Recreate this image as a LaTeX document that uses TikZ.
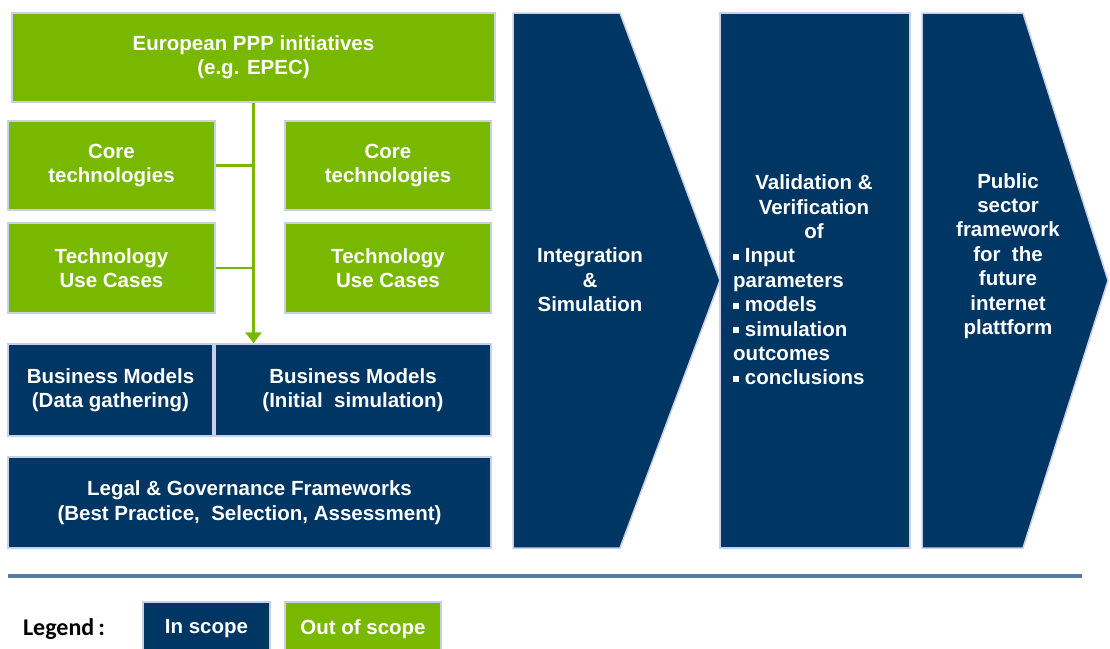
\documentclass[tikz,border=0pt]{standalone}
\usepackage{fontspec}
\setmainfont{Liberation Sans}
\newfontfamily\legfont{Carlito}
\usetikzlibrary{arrows.meta}
\definecolor{navy}{RGB}{0,54,99}
\definecolor{grn}{RGB}{120,185,0}
\definecolor{lav}{RGB}{200,207,230}
\definecolor{sepc}{RGB}{90,124,164}
\begin{document}
\begin{tikzpicture}[x=1pt,y=-1pt,
  txt/.style={text=white, inner sep=0pt, align=center, font=\fontsize{20.5}{24.4}\selectfont\bfseries},
  base/.style={txt, draw=lav, line width=1.5pt},
  gbox/.style={base, fill=grn},
  nbox/.style={base, fill=navy},
  chev/.style={draw=lav, line width=1.5pt, fill=navy},
  conn/.style={draw=grn, line width=3pt},
  branch/.style={draw=grn, line width=2.2pt}]
\useasboundingbox (0,0) rectangle (1110,648);
\fill[white] (0,0) rectangle (1110,648);

% left column boxes
\node[gbox, minimum width=483pt, minimum height=89pt] (eu) at (253.5,57.5) {European PPP initiatives\\(e.g. EPEC)};
\node[gbox, minimum width=207pt, minimum height=89pt] (coreL) at (111.5,165.5) {Core\\technologies};
\node[gbox, minimum width=206pt, minimum height=89pt] (coreR) at (388,165.5) {Core\\technologies};
\node[gbox, minimum width=207pt, minimum height=90pt] (useL) at (111.5,268) {Technology\\Use Cases};
\node[gbox, minimum width=206pt, minimum height=90pt] (useR) at (388,268) {Technology\\Use Cases};
\node[nbox, minimum width=205pt, minimum height=92pt] (bmL) at (110.5,390) {Business Models\\(Data gathering)};
\node[nbox, minimum width=276pt, minimum height=92pt] (bmR) at (353,390) {Business Models\\(Initial\ \ simulation)};
\node[nbox, minimum width=483pt, minimum height=91pt] (legal) at (249.5,502.5) {Legal \& Governance Frameworks\\(Best Practice,\ \ Selection, Assessment)};

% connectors
\draw[branch] (coreL.east) -- (coreL.east -| eu.south);
\draw[branch] (useL.east) -- (useL.east -| eu.south);
\draw[conn, -{Triangle[width=16pt,length=11pt]}] (eu.south) -- (eu.south |- bmR.north);

% chevrons
\path[chev] (513,13) -- (620,13) -- (720,280.5) -- (620,548) -- (513,548) -- cycle;
\path[chev] (720,13) rectangle (910,548);
\path[chev] (922,13) -- (1023,13) -- (1108,280.5) -- (1023,548) -- (922,548) -- cycle;

\node[txt] (integ) at (590,280) {Integration\\\&\\Simulation};
\node[txt] (vvhead) at (814,207) {Validation \&\\Verification\\of};
\node[txt, align=left, anchor=west] (vvlist) at (733,317)
  {\rule[3pt]{6pt}{6pt} Input\\parameters\\\rule[3pt]{6pt}{6pt} models\\\rule[3pt]{6pt}{6pt} simulation\\outcomes\\\rule[3pt]{6pt}{6pt} conclusions};
\node[txt] (pub) at (1008,256) {Public\\sector\\framework\\for\ \ the\\future\\internet\\plattform};

% separator
\coordinate (sepA) at (8,576);
\coordinate (sepB) at (1082,576);
\draw[sepc, line width=4pt] (sepA) -- (sepB);

% legend
\node[inner sep=0pt, font=\legfont\fontsize{24}{26}\selectfont\bfseries] (leg) at (64,629) {Legend\,:};
\node[nbox, minimum width=127pt, minimum height=54pt] (insc) at (206.5,629) {In scope};
\node[gbox, minimum width=156pt, minimum height=54pt] (outsc) at (363,629) {Out of scope};
\end{tikzpicture}
\end{document}
